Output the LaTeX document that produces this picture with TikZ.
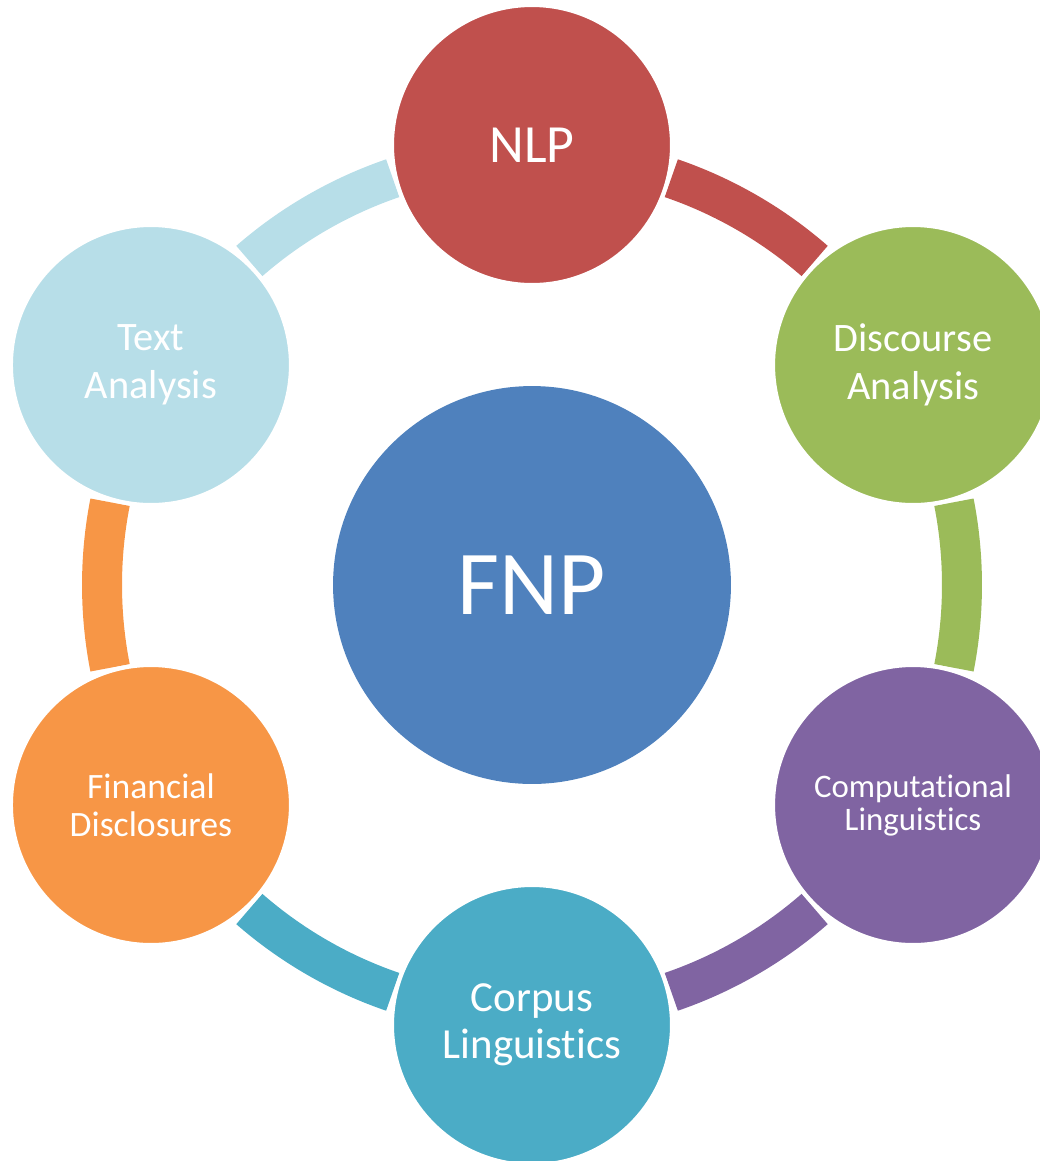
\documentclass[tikz,border=0pt]{standalone}
\usepackage{fontspec}
\setmainfont{Carlito}[Ligatures={NoCommon}]
\definecolor{cNLP}{HTML}{C0504D}
\definecolor{cDA}{HTML}{9BBB59}
\definecolor{cCL}{HTML}{8064A2}
\definecolor{cCorp}{HTML}{4BACC6}
\definecolor{cFD}{HTML}{F79646}
\definecolor{cTA}{HTML}{B7DEE8}
\definecolor{cFNP}{HTML}{4F81BD}
\begin{document}
\begin{tikzpicture}[x=0.02cm,y=0.02cm,
  outer/.style={circle, fill=#1, draw=white, line width=0.08cm, minimum size=5.6cm, inner sep=0pt, text=white, align=center},
  band/.style={line width=0.8cm, draw=#1}]
\useasboundingbox (0,0) rectangle (1040,-1161);
\clip (0,0) rectangle (1040,-1161);
\begin{scope}[shift={(532,-585)}]
  % bands along the ring
  \draw[band=cNLP]  (71.1:430) arc[start angle=71.1, end angle=48.9, radius=430];
  \draw[band=cDA]   (11.1:430) arc[start angle=11.1, end angle=-11.1, radius=430];
  \draw[band=cCL]   (-48.9:430) arc[start angle=-48.9, end angle=-71.1, radius=430];
  \draw[band=cCorp] (-108.9:430) arc[start angle=-108.9, end angle=-131.1, radius=430];
  \draw[band=cFD]   (-168.9:430) arc[start angle=-168.9, end angle=-191.1, radius=430];
  \draw[band=cTA]   (131.1:430) arc[start angle=131.1, end angle=108.9, radius=430];
  % circles
  \node[outer=cNLP,  font=\fontsize{30.6}{36}\selectfont] (nlp) at (90:440) {NLP};
  \node[outer=cDA,   font=\fontsize{23}{27.5}\selectfont] (da) at (30:440) {Discourse\\Analysis};
  \node[outer=cCL,   font=\fontsize{18.7}{18.7}\selectfont] (cl) at (-30:440) {Computational\\Linguistics};
  \node[outer=cCorp, font=\fontsize{24.4}{26.6}\selectfont] (corp) at (-90:440) {Corpus\\Linguistics};
  \node[outer=cFD,   font=\fontsize{20.3}{21.8}\selectfont] (fd) at (-150:440) {Financial\\Disclosures};
  \node[outer=cTA,   font=\fontsize{23}{27.5}\selectfont] (ta) at (150:440) {Text\\Analysis};
  \node[circle, fill=cFNP, minimum size=7.96cm, inner sep=0pt, text=white, font=\fontsize{52}{60}\selectfont] (fnp) at (0,0) {FNP};
\end{scope}
\end{tikzpicture}
\end{document}
